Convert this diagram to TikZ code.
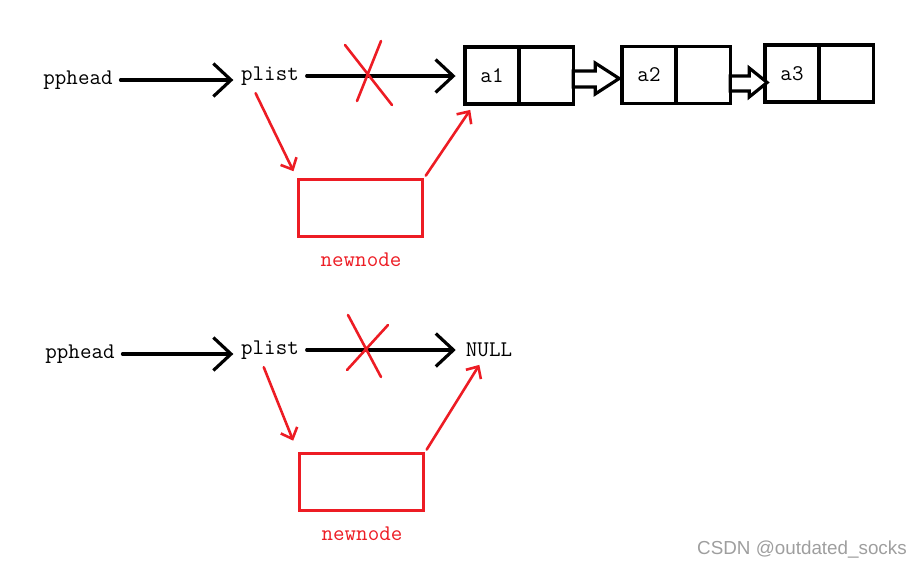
\documentclass[tikz,border=0pt]{standalone}
\usepackage{fontspec}
\newfontfamily\wmfont{Liberation Sans}
\usetikzlibrary{arrows.meta,positioning}
\definecolor{pred}{RGB}{237,28,36}
\tikzset{
  txt/.style={font=\fontsize{19}{22}\selectfont\ttfamily, inner sep=6.5pt},
  cell/.style={draw, line width=2.7pt, minimum width=46pt, minimum height=48.5pt, inner sep=0pt, outer sep=0pt, txt},
  ptr/.style={line width=2.7pt, -{Straight Barb[length=15pt,width=28pt]}},
  rptr/.style={pred, line width=2.2pt, -{Straight Barb[length=8pt,width=15pt]}},
  rbox/.style={draw=pred, line width=2.7pt, minimum width=106pt, minimum height=49pt},
  cut/.style={pred, line width=2.2pt},
  fat/.style={draw, fill=white, line width=2.7pt, line join=miter}
}
\begin{document}
\begin{tikzpicture}[x=0.85pt, y=-0.85pt, line cap=round]
  \useasboundingbox (0,0) rectangle (921,569);
  % list not empty
  \node[txt] (ph1) at (78,80) {pphead};
  \node[txt] (pl1) at (270,76) {plist};
  \node[cell] (a1) at (492,75.5) {a1};
  \node[cell, right=0pt of a1] (a1n) {};
  \node[cell] (a2) at (649,75) {a2};
  \node[cell, right=0pt of a2] (a2n) {};
  \node[cell] (a3) at (792,73.5) {a3};
  \node[cell, right=0pt of a3] (a3n) {};
  \node[rbox] (nn1) at (360.5,208) {};
  \node[txt, text=pred] (lb1) at (361,260) {newnode};
  \draw[ptr] (ph1.east) -- (ph1.east -| pl1.west);
  \draw[ptr, shorten >=8pt] (pl1.east) -- (pl1.east -| a1.west);
  \draw[fat] (a1n.east) ++(0,-4.5) -- ++(22,0) -- ++(0,-8) -- ++(24,15.5) -- ++(-24,15.5) -- ++(0,-7) -- ++(-22,0) -- cycle;
  \draw[fat] (a2n.east) ++(0,1) -- ++(19,0) -- ++(0,-8) -- ++(18,14.5) -- ++(-18,14.5) -- ++(0,-6) -- ++(-19,0) -- cycle;
  \draw[cut] (345,45) -- (392,105) (381,41) -- (357,101);
  \draw[rptr, shorten >=6pt] (pl1.230) -- (nn1.north west);
  \draw[rptr, shorten <=2pt, shorten >=6pt] (nn1.north east) -- (a1.238);
  % list empty
  \node[txt] (ph2) at (80,354) {pphead};
  \node[txt] (pl2) at (270,350) {plist};
  \node[txt] (nl) at (489,350) {NULL};
  \node[rbox] (nn2) at (361.5,482) {};
  \node[txt, text=pred] (lb2) at (362,534) {newnode};
  \draw[ptr] (ph2.east) -- (ph2.east -| pl2.west);
  \draw[ptr, shorten >=2pt] (pl2.east) -- (pl2.east -| nl.west);
  \draw[cut] (348,315) -- (381,377) (388,325) -- (347,370);
  \draw[rptr, shorten >=10pt] (pl2.250) -- (nn2.north west);
  \draw[rptr, shorten <=2pt] (nn2.north east) -- (nl.237);
  \node[font=\wmfont\fontsize{16}{18}\selectfont, text=black!38] (wm) at (802,550) {CSDN @outdated\_socks};
\end{tikzpicture}
\end{document}
